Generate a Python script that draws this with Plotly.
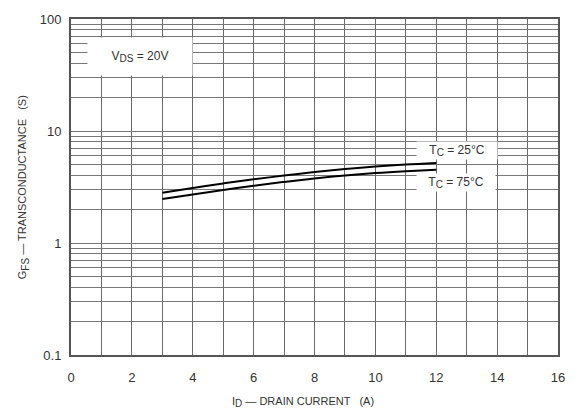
import plotly.graph_objects as go

# Data
current_a = [3, 4, 5, 6, 7, 8, 9, 10, 11, 12]
gfs_25c = [2.81, 3.10, 3.40, 3.70, 4.00, 4.30, 4.57, 4.81, 5.02, 5.19]
gfs_75c = [2.47, 2.71, 2.97, 3.24, 3.51, 3.77, 4.01, 4.21, 4.37, 4.50]

x_ticks = list(range(0, 17, 2))
y_ticks = [0.1, 1, 10, 100]
y_tick_labels = ["0.1", "1", "10", "100"]

fig = go.Figure()
fig.add_trace(go.Scatter(x=current_a, y=gfs_25c, mode="lines",
                         line=dict(color="black", width=2, shape="spline", smoothing=1),
                         showlegend=False, hoverinfo="skip"))
fig.add_trace(go.Scatter(x=current_a, y=gfs_75c, mode="lines",
                         line=dict(color="black", width=2, shape="spline", smoothing=1),
                         showlegend=False, hoverinfo="skip"))

font_c = "#333333"
fig.update_layout(
    width=581, height=412,
    margin=dict(l=71, r=23, t=16, b=57),
    paper_bgcolor="white", plot_bgcolor="white",
    font=dict(family="Liberation Sans, Arial, sans-serif", color=font_c, size=13),
    xaxis=dict(range=[0, 16], tickmode="array", tickvals=x_ticks,
               showgrid=True, gridcolor="#6a6a6a", gridwidth=1,
               minor=dict(dtick=1, showgrid=True, gridcolor="#6a6a6a", gridwidth=1),
               ticks="outside", ticklen=9, tickcolor="rgba(0,0,0,0)",
               showline=True, mirror=True, linecolor="#555555", linewidth=2,
               zeroline=False, tickfont=dict(size=13, color=font_c)),
    yaxis=dict(type="log", range=[-1, 2], tickmode="array",
               tickvals=y_ticks, ticktext=y_tick_labels,
               showgrid=True, gridcolor="#777777", gridwidth=1,
               minor=dict(dtick="D1", showgrid=True, gridcolor="#777777", gridwidth=1),
               ticks="outside", ticklen=5, tickcolor="rgba(0,0,0,0)",
               showline=True, mirror=True, linecolor="#555555", linewidth=2,
               zeroline=False, tickfont=dict(size=13, color=font_c)),
)

sub = '<sub><span style="font-size:10px">{}</span></sub>'

fig.add_annotation(x=2.27, y=1.661, xref="x", yref="y",
                   text="V" + sub.format("DS") + " = 20V", showarrow=False,
                   bgcolor="white", width=100, height=33, borderpad=2,
                   font=dict(size=12, color=font_c))
fig.add_annotation(x=12.69, y=0.8226, xref="x", yref="y",
                   text="T" + sub.format("C") + " = 25°C", showarrow=False,
                   bgcolor="white", width=78, height=15, borderpad=1,
                   font=dict(size=12, color=font_c))
fig.add_annotation(x=12.66, y=0.5446, xref="x", yref="y",
                   text="T" + sub.format("C") + " = 75°C", showarrow=False,
                   bgcolor="white", width=76, height=15, borderpad=1,
                   font=dict(size=12, color=font_c))

fig.add_annotation(x=0.476, y=-0.141, xref="paper", yref="paper",
                   text="I" + sub.format("D") + " — DRAIN CURRENT   (A)", showarrow=False,
                   xanchor="center", yanchor="middle",
                   font=dict(size=11, color=font_c))
fig.add_annotation(x=-0.098, y=0.5, xref="paper", yref="paper",
                   text="G" + sub.format("FS") + " — TRANSCONDUCTANCE   (S)", showarrow=False,
                   textangle=-90, xanchor="center", yanchor="middle",
                   font=dict(size=11, color=font_c))

fig.write_html("out.html", config={"displayModeBar": False},
               post_script="document.body.style.margin='0';document.body.style.overflow='hidden';")
